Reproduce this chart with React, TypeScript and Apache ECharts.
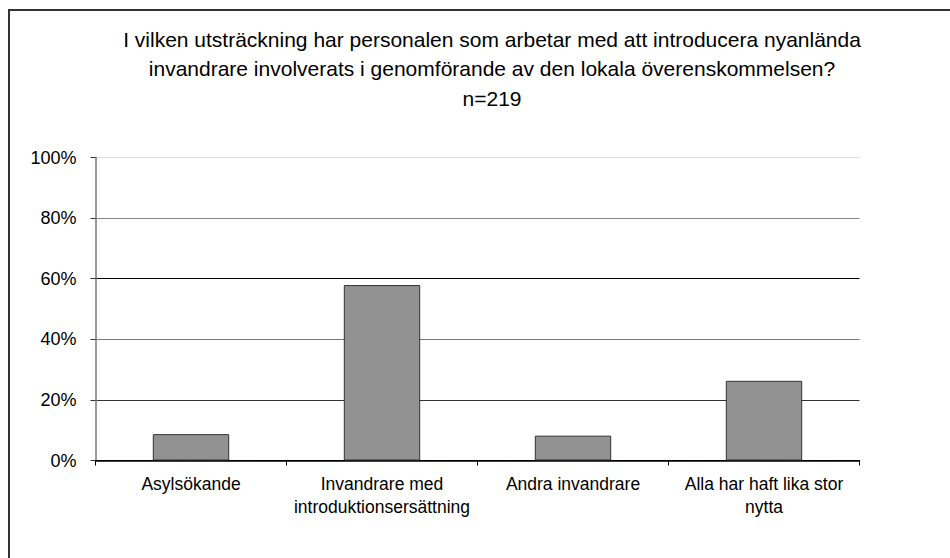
import React, { useEffect, useRef } from "react";
import * as echarts from "echarts";

const titleLines = [
  "I vilken utsträckning har personalen som arbetar med att introducera nyanlända",
  "invandrare involverats i genomförande av den lokala överenskommelsen?",
  "n=219",
];
const categories = [
  "Asylsökande",
  "Invandrare med\nintroduktionsersättning",
  "Andra invandrare",
  "Alla har haft lika stor\nnytta",
];
const values = [8.7, 57.9, 8.2, 26.3];
const gridColors = ["#000000", "#333333", "#777777", "#000000", "#888888", "#dddddd"];

export default function App() {
  const ref = useRef<HTMLDivElement>(null);
  useEffect(() => {
    const chart = echarts.init(ref.current!, null, { renderer: "svg" });
    const font = "Liberation Sans, Arial, sans-serif";
    chart.setOption({
      animation: false,
      backgroundColor: "#ffffff",
      grid: { left: 95.5, right: 90.5, top: 157.5, bottom: 97.5, containLabel: false },
      graphic: [
        {
          type: "rect",
          shape: { x: 9, y: 10, width: 1200, height: 1200 },
          style: { fill: "none", stroke: "#333333", lineWidth: 2 },
          silent: true,
        },
        ...titleLines.map((t, i) => ({
          type: "text",
          x: 492,
          y: 39 + i * 29.5,
          style: {
            text: t,
            fill: "#000000",
            font: `21px ${font}`,
            textAlign: "center",
            textVerticalAlign: "middle",
          },
        })),
      ],
      xAxis: {
        type: "category",
        data: categories,
        axisLine: { lineStyle: { color: "#000000", width: 1.5 } },
        axisTick: { show: true, length: 5, lineStyle: { color: "#000000" } },
        axisLabel: {
          color: "#000000",
          fontFamily: font,
          fontSize: 17.5,
          lineHeight: 23,
          margin: 12,
          interval: 0,
        },
        splitLine: { show: false },
      },
      yAxis: {
        type: "value",
        min: 0,
        max: 100,
        interval: 20,
        axisLine: { show: true, lineStyle: { color: "#777777", width: 1.5 } },
        axisTick: { show: true, length: 5, lineStyle: { color: "#333333" } },
        axisLabel: {
          color: "#000000",
          fontFamily: font,
          fontSize: 18,
          margin: 19,
          formatter: "{value}%",
        },
        splitLine: { show: true, lineStyle: { color: gridColors, width: 1.2 } },
      },
      series: [
        {
          type: "bar",
          data: values,
          barWidth: "40%",
          itemStyle: { color: "#929292", borderColor: "#333333", borderWidth: 1 },
        },
      ],
    });
    return () => chart.dispose();
  }, []);
  return (
    <div
      ref={ref}
      style={{ position: "fixed", left: 0, top: 0, width: 950, height: 558 }}
    />
  );
}
